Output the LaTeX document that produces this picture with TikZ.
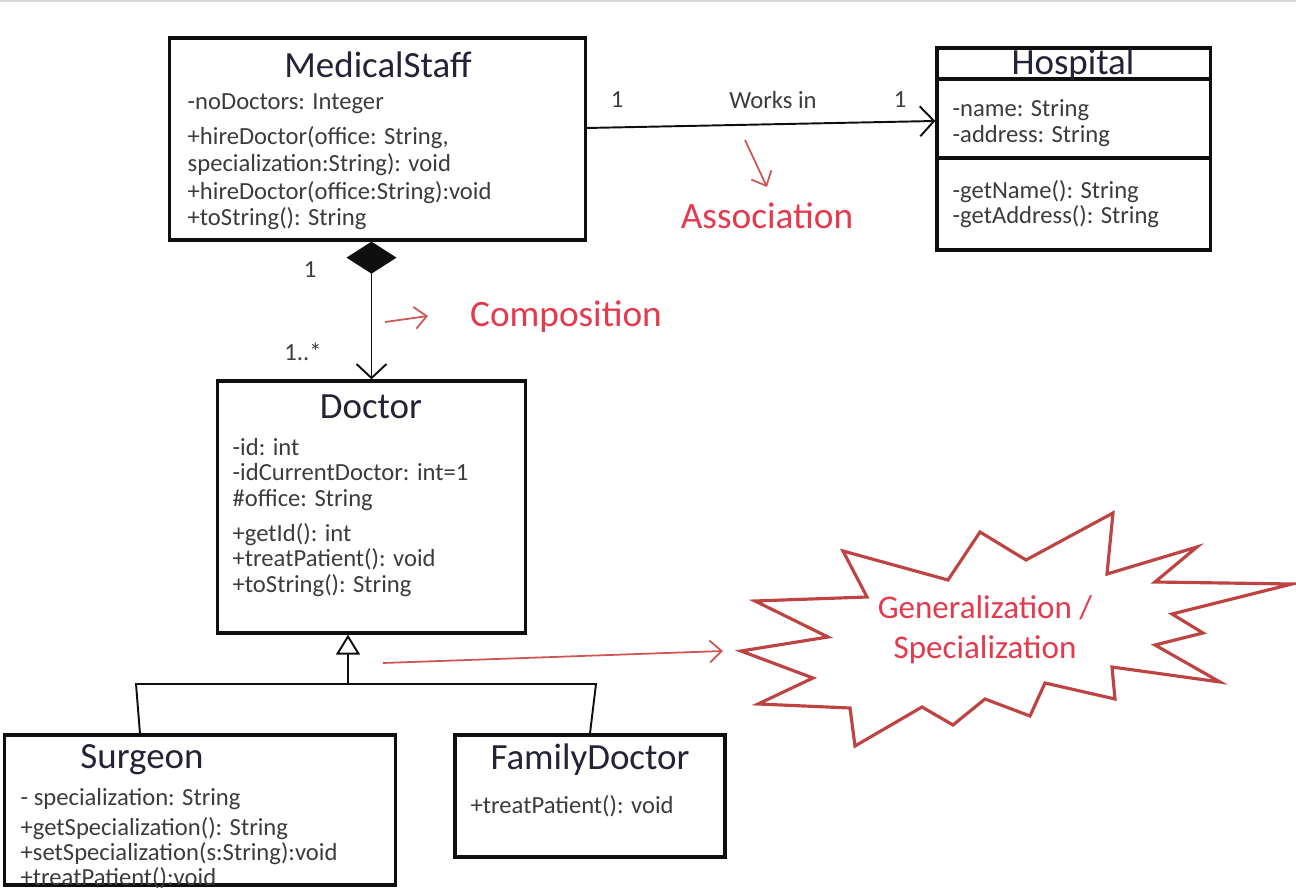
\documentclass[tikz,border=0pt]{standalone}
\usepackage{fontspec}
\setmainfont{Carlito}
\usetikzlibrary{arrows.meta}

\definecolor{umlink}{RGB}{15,15,15}
\definecolor{umltext}{RGB}{60,60,60}
\definecolor{umltitle}{RGB}{35,35,55}
\definecolor{notered}{RGB}{228,58,78}
\definecolor{arrowred}{RGB}{205,85,85}
\definecolor{burstred}{RGB}{190,68,68}
\definecolor{edgegray}{RGB}{215,215,215}

\newcommand{\membersize}{\fontsize{7}{8}\selectfont}
\newcommand{\titlesize}{\fontsize{10.5}{12}\selectfont}
\newcommand{\notesize}{\fontsize{10.6}{13}\selectfont}
\newcommand{\burstsize}{\fontsize{9.4}{11.4}\selectfont}

\tikzset{
  umlbox/.style={draw=umlink, line width=0.9pt, fill=white, inner sep=0pt},
  classname/.style={font=\titlesize, text=umltitle, inner sep=0pt},
  member/.style={anchor=west, font=\membersize, text=umltext, inner sep=0pt, text height=1.5ex, text depth=0.4ex},
  mult/.style={font=\membersize, text=umltext, inner sep=0pt},
  umlline/.style={draw=umlink, line width=0.55pt},
  notelabel/.style={font=\notesize, text=notered, inner sep=0pt},
  notearrow/.style={draw=arrowred, line width=0.5pt, -{Straight Barb[length=1.2mm,width=2.2mm]}},
}

\begin{document}
\begin{tikzpicture}[x=0.01cm,y=-0.01cm]
\useasboundingbox (0,0) rectangle (1296,888);
\draw[edgegray, line width=0.4pt] (0,1) -- (1296,1);
% class boxes
\node[umlbox, minimum width=4.15cm, minimum height=2.02cm] (staff) at (377.5,139) {};
\node[umlbox, minimum width=2.73cm, minimum height=2.02cm] (hosp) at (1073.5,149) {};
\node[umlbox, minimum width=3.07cm, minimum height=2.52cm] (doc) at (371.5,507) {};
\node[umlbox, minimum width=3.9cm, minimum height=1.5cm] (surg) at (200,810) {};
\node[umlbox, minimum width=2.7cm, minimum height=1.22cm] (fam) at (590,796) {};
\draw[umlink, line width=0.9pt] (hosp.west |- 0,79) -- (hosp.east |- 0,79);
\draw[umlink, line width=0.9pt] (hosp.west |- 0,158) -- (hosp.east |- 0,158);

% MedicalStaff
\node[classname] (staff-name) at (378,65) {MedicalStaff};
\node[member] (staff-a1) at (187,100) {-noDoctors: Integer};
\node[member] (staff-o1) at (187,135) {+hireDoctor(office: String,};
\node[member] (staff-o2) at (187,162) {specialization:String): void};
\node[member] (staff-o3) at (187,190) {+hireDoctor(office:String):void};
\node[member] (staff-o4) at (187,216) {+toString(): String};

% Hospital
\node[classname] (hosp-name) at (1073,65) {Hospital};
\node[member] (hosp-a1) at (952,107) {-name: String};
\node[member] (hosp-a2) at (952,133) {-address: String};
\node[member] (hosp-o1) at (952,189) {-getName(): String};
\node[member] (hosp-o2) at (952,214) {-getAddress(): String};

% Doctor
\node[classname] (doc-name) at (371,407) {Doctor};
\node[member] (doc-a1) at (232,446) {-id: int};
\node[member] (doc-a2) at (232,471) {-idCurrentDoctor: int=1};
\node[member] (doc-a3) at (232,497) {\#office: String};
\node[member] (doc-o1) at (232,532) {+getId(): int};
\node[member] (doc-o2) at (232,557) {+treatPatient(): void};
\node[member] (doc-o3) at (232,583) {+toString(): String};

% Surgeon
\node[classname] (surg-name) at (142,760) {Surgeon};
\node[member] (surg-a1) at (20,796) {- specialization: String};
\node[member] (surg-o1) at (20,826) {+getSpecialization(): String};
\node[member] (surg-o2) at (20,851) {+setSpecialization(s:String):void};
\node[member] (surg-o3) at (20,876) {+treatPatient():void};

% FamilyDoctor
\node[classname] (fam-name) at (590,760) {FamilyDoctor};
\node[member] (fam-o1) at (470,804) {+treatPatient(): void};

% association
\draw[umlline, -{Straight Barb[length=1.4mm,width=3mm]}] ([yshift=0.11cm]staff.east) -- ([yshift=0.28cm]hosp.west);
\node[mult] (m-staff) at (617,100) {1};
\node[mult] (works) at (773,100) {Works in};
\node[mult] (m-hosp) at (900,100) {1};

% composition
\draw[umlline, {Diamond[length=3.2mm,width=5mm]}-{Straight Barb[length=1.4mm,width=3mm]}] (doc.north |- staff.south) -- (doc.north);
\node[mult] (m-one) at (310,270) {1};
\node[mult] (m-many) at (303,352) {1..*};

% generalization
\coordinate (gen-l) at (136,684);
\coordinate (gen-m) at (348,684);
\coordinate (gen-r) at (596,684);
\draw[umlline, -{Triangle[open,length=2mm,width=2.4mm,fill=white]}] (gen-m) -- (gen-m |- doc.south);
\draw[umlline] ([xshift=-0.6cm]surg.north) -- (gen-l) -- (gen-r) -- (fam.north);

% red notes
\node[notelabel] (assoc-note) at (767,216) {Association};
\coordinate (assoc-tail) at (745,140);
\coordinate (assoc-head) at (767,187);
\draw[notearrow] (assoc-tail) -- (assoc-head);
\node[notelabel] (comp-note) at (566,317) {Composition};
\coordinate (comp-tail) at (385,322);
\coordinate (comp-head) at (428,316);
\draw[notearrow] (comp-tail) -- (comp-head);

% burst
\draw[burstred, line width=0.9pt, line join=miter] (755,601) -- (867,597) -- (843,551) -- (948,580)
  -- (980,532) -- (1026,560) -- (1113,513) -- (1107,574) -- (1197,547) -- (1155,582)
  -- (1292,584) -- (1172,614) -- (1203,633) -- (1155,645) -- (1220,682) -- (1112,667)
  -- (1115,699) -- (1045,683) -- (1030,716) -- (985,699) -- (953,725) -- (922,707)
  -- (855,746) -- (850,708) -- (758,704) -- (813,678) -- (741,651) -- (828,637) -- cycle;
\node[font=\burstsize, text=notered, align=center, inner sep=0pt] (burst-note) at (985,630) {Generalization /\\Specialization};
\coordinate (gen-tail) at (383,663);
\coordinate (gen-head) at (723,651);
\draw[notearrow] (gen-tail) -- (gen-head);
\end{tikzpicture}
\end{document}
